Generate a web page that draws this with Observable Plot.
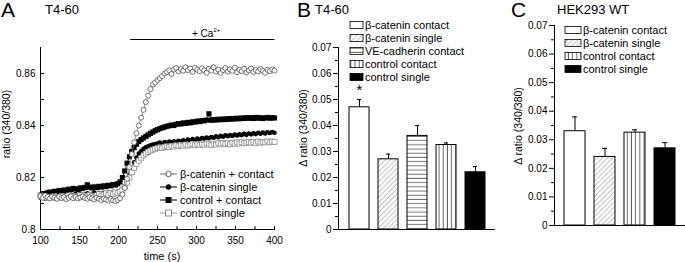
<!DOCTYPE html>
<html><head><meta charset="utf-8">
<script src="https://cdn.jsdelivr.net/npm/d3@7"></script>
<script src="https://cdn.jsdelivr.net/npm/@observablehq/plot@0.6"></script>
<style>
body{margin:0;background:#fff;}
#fig{position:relative;width:685px;height:262px;font-family:"Liberation Sans",Arial,sans-serif;color:#000;overflow:hidden;background:#fff}
.abs{position:absolute;white-space:nowrap;line-height:1}
.plot{position:absolute;top:0}
sup{font-size:6px;vertical-align:5px;line-height:0}
</style></head><body><div id="fig"></div>
<script>
// ---------- Panel A data (time course, sampled every 3 s) ----------
const times = d3.range(100, 401, 3);
const seriesNames = ["β-catenin + contact", "β-catenin single", "control + contact", "control single"];
const bcContact = [
 0.8128,0.8122,0.8131,0.8125,0.8119,0.8127,0.8123,0.8118,0.8126,0.8121,
 0.8124,0.8117,0.8122,0.8128,0.8120,0.8125,0.8119,0.8123,0.8127,0.8121,
 0.8118,0.8124,0.8120,0.8116,0.8122,0.8118,0.8113,0.8119,0.8115,0.8111,
 0.8117,0.8112,0.8109,0.8114,0.8120,0.8135,0.8160,0.8195,0.8240,0.8290,
 0.8335,0.8370,0.8400,0.8430,0.8460,0.8490,0.8515,0.8540,0.8558,0.8565,
 0.8575,0.8582,0.8590,0.8600,0.8605,0.8612,0.8598,0.8615,0.8621,0.8608,
 0.8617,0.8611,0.8624,0.8613,0.8619,0.8606,0.8622,0.8615,0.8609,0.8620,
 0.8612,0.8603,0.8618,0.8611,0.8624,0.8608,0.8615,0.8602,0.8613,0.8621,
 0.8607,0.8616,0.8610,0.8622,0.8605,0.8614,0.8609,0.8618,0.8604,0.8612,
 0.8619,0.8606,0.8613,0.8608,0.8617,0.8610,0.8603,0.8614,0.8609,0.8616,
 0.8611];
const bcSingle = [
 0.8122,0.8128,0.8119,0.8125,0.8131,0.8124,0.8120,0.8127,0.8132,0.8126,
 0.8129,0.8135,0.8128,0.8133,0.8127,0.8136,0.8131,0.8138,0.8130,0.8134,
 0.8139,0.8133,0.8137,0.8142,0.8136,0.8140,0.8134,0.8141,0.8137,0.8143,
 0.8138,0.8144,0.8140,0.8145,0.8146,0.8152,0.8166,0.8186,0.8210,0.8235,
 0.8258,0.8277,0.8292,0.8302,0.8310,0.8316,0.8320,0.8324,0.8327,0.8329,
 0.8331,0.8334,0.8330,0.8336,0.8333,0.8338,0.8335,0.8339,0.8336,0.8341,
 0.8338,0.8343,0.8340,0.8346,0.8342,0.8348,0.8344,0.8350,0.8346,0.8352,
 0.8349,0.8354,0.8351,0.8356,0.8353,0.8358,0.8355,0.8360,0.8357,0.8362,
 0.8359,0.8363,0.8360,0.8365,0.8362,0.8366,0.8363,0.8368,0.8364,0.8369,
 0.8366,0.8370,0.8367,0.8372,0.8368,0.8373,0.8369,0.8374,0.8371,0.8375,
 0.8372];
const ctContact = [
 0.8132,0.8138,0.8135,0.8141,0.8144,0.8140,0.8147,0.8145,0.8150,0.8148,
 0.8152,0.8149,0.8155,0.8153,0.8158,0.8156,0.8154,0.8160,0.8158,0.8162,
 0.8172,0.8163,0.8160,0.8164,0.8161,0.8166,0.8163,0.8168,0.8165,0.8170,
 0.8168,0.8173,0.8171,0.8176,0.8183,0.8200,0.8225,0.8255,0.8280,0.8300,
 0.8315,0.8328,0.8338,0.8346,0.8352,0.8358,0.8364,0.8370,0.8375,0.8380,
 0.8384,0.8388,0.8391,0.8394,0.8397,0.8399,0.8402,0.8400,0.8405,0.8407,
 0.8406,0.8410,0.8408,0.8412,0.8410,0.8414,0.8413,0.8417,0.8415,0.8419,
 0.8418,0.8421,0.8445,0.8420,0.8423,0.8421,0.8424,0.8422,0.8425,0.8423,
 0.8426,0.8424,0.8427,0.8425,0.8428,0.8426,0.8429,0.8427,0.8430,0.8428,
 0.8430,0.8427,0.8431,0.8428,0.8430,0.8427,0.8429,0.8431,0.8428,0.8430,
 0.8429];
const ctSingle = [
 0.8130,0.8124,0.8127,0.8121,0.8126,0.8123,0.8128,0.8122,0.8125,0.8129,
 0.8123,0.8127,0.8131,0.8125,0.8129,0.8124,0.8128,0.8132,0.8126,0.8130,
 0.8127,0.8133,0.8129,0.8125,0.8131,0.8136,0.8130,0.8134,0.8139,0.8133,
 0.8141,0.8137,0.8143,0.8140,0.8145,0.8152,0.8163,0.8180,0.8200,0.8220,
 0.8237,0.8252,0.8265,0.8276,0.8285,0.8292,0.8298,0.8303,0.8307,0.8310,
 0.8313,0.8316,0.8314,0.8318,0.8320,0.8317,0.8322,0.8319,0.8324,0.8321,
 0.8325,0.8322,0.8327,0.8323,0.8326,0.8329,0.8324,0.8328,0.8325,0.8330,
 0.8326,0.8331,0.8328,0.8324,0.8330,0.8327,0.8332,0.8328,0.8333,0.8329,
 0.8332,0.8328,0.8334,0.8330,0.8335,0.8331,0.8336,0.8332,0.8334,0.8337,
 0.8333,0.8336,0.8332,0.8338,0.8334,0.8337,0.8335,0.8339,0.8336,0.8338,
 0.8337];
const caWindow = {start: 215, end: 400};
const yTicksA = [0.80, 0.81, 0.82, 0.83, 0.84, 0.85, 0.86];
const yLabelsA = [0.80, 0.82, 0.84, 0.86];
const xTicksA = [100, 125, 150, 175, 200, 225, 250, 275, 300, 325, 350, 375, 400];
const xLabelsA = [100, 150, 200, 250, 300, 350, 400];

// ---------- Panel B data ----------
const catsB = ["β-catenin contact", "β-catenin single", "VE-cadherin contact", "control contact", "control single"];
const valsB = [0.047, 0.027, 0.036, 0.0325, 0.022];
const errsB = [0.003, 0.002, 0.004, 0.0008, 0.0022];
const marksB = ["*", "", "", "", ""];
// ---------- Panel C data ----------
const catsC = ["β-catenin contact", "β-catenin single", "control contact", "control single"];
const valsC = [0.033, 0.024, 0.0325, 0.027];
const errsC = [0.005, 0.003, 0.001, 0.002];
const yMajorBC = [0, 0.01, 0.02, 0.03, 0.04, 0.05, 0.06, 0.07];
const yMinorBC = [0.005, 0.015, 0.025, 0.035, 0.045, 0.055, 0.065];

const FONT = '"Liberation Sans", Arial, sans-serif';
const fig = document.getElementById("fig");

function addPatterns(svg, p) {
  const defs = d3.select(svg).insert("defs", ":first-child");
  const diag = defs.append("pattern").attr("id", p + "diag").attr("patternUnits", "userSpaceOnUse")
    .attr("width", 3.6).attr("height", 3.6).attr("patternTransform", "rotate(45)");
  diag.append("rect").attr("width", 3.6).attr("height", 3.6).attr("fill", "white");
  diag.append("line").attr("x1", 0).attr("y1", 0).attr("x2", 0).attr("y2", 3.6).attr("stroke", "#777").attr("stroke-width", 0.9);
  const hor = defs.append("pattern").attr("id", p + "hor").attr("patternUnits", "userSpaceOnUse")
    .attr("width", 4).attr("height", 4.2);
  hor.append("rect").attr("width", 4).attr("height", 4.2).attr("fill", "white");
  hor.append("line").attr("x1", 0).attr("y1", 2).attr("x2", 4).attr("y2", 2).attr("stroke", "#666").attr("stroke-width", 0.9);
  const ver = defs.append("pattern").attr("id", p + "ver").attr("patternUnits", "userSpaceOnUse")
    .attr("width", 4.2).attr("height", 4);
  ver.append("rect").attr("width", 4.2).attr("height", 4).attr("fill", "white");
  ver.append("line").attr("x1", 2).attr("y1", 0).attr("x2", 2).attr("y2", 4).attr("stroke", "#555").attr("stroke-width", 0.9);
}
function fillFor(cat, p) {
  if (cat === "β-catenin contact") return "white";
  if (cat === "β-catenin single") return `url(#${p}diag)`;
  if (cat === "VE-cadherin contact") return `url(#${p}hor)`;
  if (cat === "control contact") return `url(#${p}ver)`;
  return "black";
}
function place(el, left) { el.classList.add("plot"); el.style.left = left + "px"; fig.appendChild(el); }
function html(text, left, top, size, extra = "") {
  const d = document.createElement("div"); d.className = "abs";
  d.style.left = left + "px"; d.style.top = top + "px"; d.style.fontSize = size + "px";
  d.style.cssText += extra; d.innerHTML = text; fig.appendChild(d); return d;
}
function ylab(svg, text, cx, cy) {
  d3.select(svg).append("text").attr("transform", `translate(${cx},${cy}) rotate(-90)`)
    .attr("text-anchor", "middle").attr("dominant-baseline", "central")
    .attr("font-family", FONT).attr("font-size", 10.5).attr("fill", "black").text(text);
}

// ---------- Panel A ----------
const seriesVals = [bcContact, bcSingle, ctContact, ctSingle];
const styles = [
  {symbol: "circle", r: 2.5, fill: "white", stroke: "#555", line: "#777"},
  {symbol: "circle", r: 2.3, fill: "black", stroke: "none", line: "black"},
  {symbol: "square", r: 2.9, fill: "black", stroke: "none", line: "black"},
  {symbol: "square", r: 2.8, fill: "white", stroke: "#888", line: "#999"}
];
const drawOrder = [2, 1, 3, 0];
const marksA = [
  Plot.frame({anchor: "left"}),
  Plot.frame({anchor: "bottom"}),
  Plot.axisY({ticks: yLabelsA, tickSize: 0, tickPadding: 5, tickFormat: d => String(+d.toFixed(2)), fontSize: 10, label: null}),
  Plot.axisY({ticks: yTicksA, tickSize: -4, tickFormat: () => "", label: null}),
  Plot.axisX({ticks: xLabelsA, tickSize: 0, tickPadding: 7, tickFormat: d => String(d), fontSize: 10, label: null}),
  Plot.axisX({ticks: xTicksA, tickSize: -3, tickFormat: () => "", label: null}),
  Plot.link([caWindow], {x1: "start", x2: "end", y1: () => 0.87, y2: () => 0.87, dy: -8, stroke: "black", strokeWidth: 1.2})
];
for (const k of drawOrder) {
  const data = times.map((t, i) => ({t, v: seriesVals[k][i]}));
  const s = styles[k];
  marksA.push(Plot.line(data, {x: "t", y: "v", stroke: s.line, strokeWidth: 0.8}));
  marksA.push(Plot.dot(data, {x: "t", y: "v", r: s.r, symbol: s.symbol, fill: s.fill, stroke: s.stroke, strokeWidth: 0.8}));
}
const plotA = Plot.plot({
  width: 290, height: 262, marginLeft: 40, marginRight: 16, marginTop: 47, marginBottom: 33,
  x: {domain: [100, 400], axis: null, label: null}, y: {domain: [0.8, 0.87], axis: null, label: null},
  style: {fontFamily: FONT, fontSize: "10px", background: "transparent", color: "black", overflow: "visible"},
  marks: marksA
});
place(plotA, 0);
// legend A
{
  const g = d3.select(plotA).append("g").attr("font-family", FONT).attr("font-size", 11).attr("text-anchor", "start");
  seriesNames.forEach((name, k) => {
    const y = 174 + k * 13, s = styles[k];
    g.append("line").attr("x1", 160).attr("x2", 177).attr("y1", y).attr("y2", y).attr("stroke", s.line).attr("stroke-width", 1);
    if (s.symbol === "circle") g.append("circle").attr("cx", 168.5).attr("cy", y).attr("r", 2.7).attr("fill", s.fill).attr("stroke", s.stroke === "none" ? null : s.stroke);
    else g.append("rect").attr("x", 165.5).attr("y", y - 3).attr("width", 6).attr("height", 6).attr("fill", s.fill).attr("stroke", s.stroke === "none" ? null : s.stroke);
    g.append("text").attr("x", 180).attr("y", y + 4).attr("fill", "black").text(name);
  });
}
ylab(plotA, "ratio (340/380)", 6, 124);

// ---------- Bar panels ----------
function barPanel(cats, vals, errs, stars, opts) {
  const data = cats.map((c, i) => ({cat: c, val: vals[i], top: vals[i] + errs[i], star: stars ? stars[i] : "", fill: fillFor(c, opts.p)}));
  const svg = Plot.plot({
    width: opts.width, height: 262, marginLeft: opts.ml, marginRight: 0, marginTop: opts.mt, marginBottom: opts.mb,
    x: {domain: cats, axis: null, label: null, paddingInner: opts.pi, paddingOuter: opts.po},
    y: {domain: [0, 0.07], axis: null, label: null},
    color: {type: "identity"},
    style: {fontFamily: FONT, fontSize: "10px", background: "transparent", color: "black", overflow: "visible"},
    marks: [
      Plot.axisY({ticks: yMajorBC, tickSize: 5, tickPadding: 2, tickFormat: d => d === 0 ? "0" : d.toFixed(2), fontSize: 10, label: null}),
      Plot.axisY({ticks: yMinorBC, tickSize: 3, tickFormat: () => "", label: null}),
      Plot.frame({anchor: "left"}),
      Plot.ruleY([0]),
      Plot.ruleX(data, {x: "cat", y1: "val", y2: "top", stroke: "black", strokeWidth: 1}),
      Plot.tickY(data, {x: "cat", y: "top", inset: 8, stroke: "black", strokeWidth: 1}),
      Plot.barY(data, {x: "cat", y: "val", fill: "fill", stroke: "black", strokeWidth: 1}),
      Plot.text(data, {x: "cat", y: "top", text: "star", dy: -5, fontSize: 15, lineAnchor: "bottom"})
    ]
  });
  addPatterns(svg, opts.p);
  const g = d3.select(svg).append("g").attr("font-family", FONT).attr("font-size", 11).attr("text-anchor", "start");
  cats.forEach((c, i) => {
    const y = opts.ly + i * 13;
    g.append("rect").attr("x", opts.lx).attr("y", y - 3.5).attr("width", opts.lw).attr("height", 7)
      .attr("fill", fillFor(c, opts.p)).attr("stroke", "black").attr("stroke-width", 0.8);
    g.append("text").attr("x", opts.lx + opts.lw + 2).attr("y", y + 4).attr("fill", "black").text(c);
  });
  ylab(svg, "Δ ratio (340/380)", opts.yx, opts.yy);
  return svg;
}
const plotB = barPanel(catsB, valsB, errsB, marksB, {p: "b", width: 205, ml: 48, mt: 47, mb: 33, pi: 0.32, po: 0.32, lx: 60, ly: 25, lw: 13, yx: 13, yy: 128});
place(plotB, 290);
const plotC = barPanel(catsC, valsC, errsC, null, {p: "c", width: 190, ml: 59, mt: 25, mb: 37, pi: 0.31, po: 0.32, lx: 70, ly: 30, lw: 16, yx: 23, yy: 126});
place(plotC, 495);

// ---------- Texts ----------
html("A", 1, -1, 21);
html("T4-60", 45, 3, 13);
html("B", 297, -1, 21);
html("T4-60", 315, 3, 13);
html("C", 511, -1, 21);
html("HEK293 WT", 557, 3, 13);
html("+ Ca<sup>2+</sup>", 192, 29, 10);
html("time (s)", 162, 251, 11, "transform:translateX(-50%);");
</script></body></html>
